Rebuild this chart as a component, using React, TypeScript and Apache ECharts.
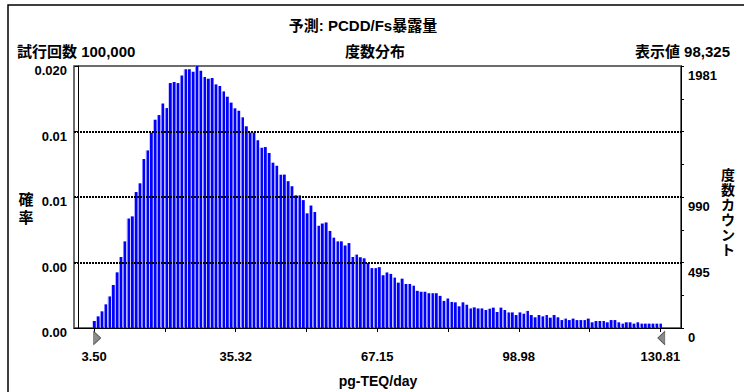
import React, { useEffect, useRef } from "react";
import * as echarts from "echarts";

// ---- texts ----
const forecastTitle = "予測: PCDD/Fs暴露量";
const chartTitle = "度数分布";
const trialsLabel = "試行回数";
const displayedLabel = "表示値";
const trials = 100000;
const displayed = 98325;
const xName = "pg-TEQ/day";
const leftName = "確率";
const rightName = "度数カウント";

// ---- data ----
const binMin = 3.5;
const binMax = 130.81;
const counts = [
  53, 88, 126, 179, 239, 325, 421, 537, 655, 827,
  844, 1028, 1094, 1278, 1343, 1477, 1575, 1610, 1698, 1663,
  1852, 1860, 1852, 1910, 1956, 1956, 1938, 1981, 1945, 1898,
  1885, 1890, 1842, 1830, 1789, 1749, 1704, 1661, 1643, 1593,
  1525, 1477, 1477, 1419, 1363, 1368, 1323, 1250, 1227, 1159,
  1160, 1110, 1072, 1003, 1003, 967, 867, 926, 877, 773,
  790, 798, 734, 683, 655, 655, 624, 642, 537, 555,
  535, 527, 491, 453, 453, 460, 399, 420, 409, 381,
  343, 373, 333, 333, 320, 281, 274, 274, 263, 263,
  263, 243, 205, 223, 197, 194, 164, 194, 176, 148,
  156, 148, 148, 136, 146, 154, 121, 154, 136, 118,
  118, 98, 118, 108, 129, 98, 81, 98, 88, 98,
  78, 98, 81, 60, 71, 60, 71, 60, 60, 60,
  71, 43, 53, 53, 53, 43, 60, 60, 43, 33,
  43, 43, 33, 43, 33, 33, 33, 33, 33, 33,
];
const xTickLabels = ["3.50", "35.32", "67.15", "98.98", "130.81"];
const probTickLabels = ["0.00", "0.00", "0.01", "0.01", "0.020"];
const countTickLabels = ["0", "", "495", "", "990", "", "", "", "1981"];
const countMax = 1981;

const FONT = "'Liberation Sans', 'Noto Sans CJK JP', sans-serif";

function buildOption() {
  const n = counts.length;
  const step = (binMax - binMin) / (n - 1);
  const barData = counts.map((c, i) => [binMin + i * step, c]);
  const labelVals = xTickLabels.map(Number);
  const tickVals: number[] = [];
  labelVals.forEach((v, i) => {
    tickVals.push(v);
    if (i < labelVals.length - 1) tickVals.push((v + labelVals[i + 1]) / 2);
  });
  const probMax = countMax / displayed;
  const nProb = probTickLabels.length - 1;
  const nCount = countTickLabels.length - 1;
  const fmt = (x: number) => x.toLocaleString("en-US");

  const txt = (
    text: string,
    x: number,
    y: number,
    align: string,
    size: number,
    lineHeight?: number
  ) => ({
    type: "text",
    x,
    y,
    silent: true,
    style: {
      text,
      fill: "#000",
      font: `bold ${size}px ${FONT}`,
      align,
      textAlign: align,
      verticalAlign: "middle",
      textVerticalAlign: "middle",
      lineHeight: lineHeight ?? size + 2,
    },
  });

  return {
    animation: false,
    backgroundColor: "#fff",
    textStyle: { fontFamily: FONT },
    grid: {
      left: 74,
      right: 63,
      top: 66,
      bottom: 64,
      show: true,
      borderColor: "#3c3c3c",
      borderWidth: 1.5,
      backgroundColor: "#fff",
    },
    xAxis: {
      type: "value",
      min: -1.04,
      max: 135.46,
      axisLine: { show: true, onZero: false, lineStyle: { color: "#000", width: 1 } },
      axisTick: {
        show: true,
        customValues: tickVals,
        length: 4,
        lineStyle: { color: "#000", width: 1 },
      },
      axisLabel: {
        customValues: labelVals,
        formatter: (v: number) => {
          const i = labelVals.findIndex((l) => Math.abs(l - v) < 1e-6);
          return i >= 0 ? xTickLabels[i] : "";
        },
        margin: 22,
        fontSize: 13,
        fontWeight: "bold",
        color: "#000",
        fontFamily: FONT,
      },
      splitLine: { show: false },
    },
    yAxis: [
      {
        type: "value",
        position: "left",
        min: 0,
        max: probMax,
        interval: probMax / nProb,
        z: 5,
        axisLine: { show: true, lineStyle: { color: "#000" } },
        axisTick: { show: true, length: 4, lineStyle: { color: "#000" } },
        axisLabel: {
          formatter: (v: number) => probTickLabels[Math.round((v / probMax) * nProb)] ?? "",
          margin: 7,
          fontSize: 13,
          fontWeight: "bold",
          color: "#000",
          fontFamily: FONT,
          verticalAlign: "top",
          lineHeight: 9,
        },
        splitLine: {
          show: true,
          showMinLine: false,
          showMaxLine: false,
          lineStyle: { color: "#000", type: [2, 1], width: 2.2 },
        },
      },
      {
        type: "value",
        position: "right",
        min: 0,
        max: countMax,
        interval: countMax / nCount,
        axisLine: { show: true, lineStyle: { color: "#000" } },
        axisTick: { show: true, length: 3, lineStyle: { color: "#000" } },
        axisLabel: {
          formatter: (v: number) => countTickLabels[Math.round((v / countMax) * nCount)] ?? "",
          margin: 7,
          fontSize: 13,
          fontWeight: "bold",
          color: "#000",
          fontFamily: FONT,
          verticalAlign: "top",
          lineHeight: 19,
        },
        splitLine: { show: false },
      },
    ],
    series: [
      {
        type: "bar",
        yAxisIndex: 1,
        data: barData,
        barWidth: 3.2,
        itemStyle: {
          color: new echarts.graphic.LinearGradient(0, 0, 1, 0, [
            { offset: 0, color: "#8080ff" },
            { offset: 0.25, color: "#8080ff" },
            { offset: 0.26, color: "#0000ff" },
            { offset: 1, color: "#0000ff" },
          ]),
        },
        markPoint: {
          silent: true,
          symbol: "triangle",
          symbolSize: [13, 7],
          label: { show: false },
          itemStyle: { color: "#8c8c8c", borderColor: "#555", borderWidth: 0.8 },
          data: [
            { coord: [binMin, 0], symbolRotate: -90, symbolOffset: [3, 10] },
            { coord: [binMax, 0], symbolRotate: 90, symbolOffset: [1, 10] },
          ],
        },
      },
    ],
    graphic: [
      {
        type: "rect",
        silent: true,
        z: 10,
        shape: { x: 8, y: 5, width: 780, height: 420 },
        style: { fill: "none", stroke: "#000", lineWidth: 1.5 },
      },
      txt(forecastTitle, 363, 25, "center", 15),
      txt(`${trialsLabel} ${fmt(trials)}`, 17, 51, "left", 15),
      txt(chartTitle, 375, 51, "center", 15),
      txt(`${displayedLabel} ${fmt(displayed)}`, 730, 51, "right", 15),
      txt(xName, 378, 381, "center", 14),
      txt(leftName.split("").join("\n"), 26, 208, "center", 15, 18),
      txt(rightName.split("").join("\n"), 728, 212, "center", 14, 15),
    ],
  };
}

export default function App() {
  const ref = useRef<HTMLDivElement>(null);
  useEffect(() => {
    document.body.style.margin = "0";
    if (!ref.current) return;
    const chart = echarts.init(ref.current, undefined, { renderer: "svg" });
    chart.setOption(buildOption() as any);
    return () => chart.dispose();
  }, []);
  return <div ref={ref} style={{ width: 744, height: 392 }} />;
}
